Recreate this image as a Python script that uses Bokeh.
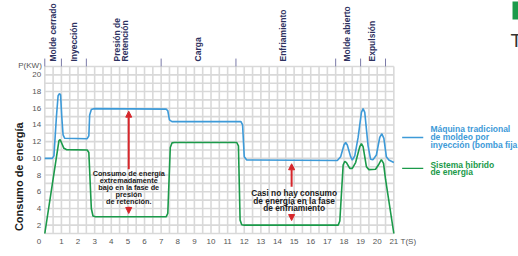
from bokeh.plotting import figure
from bokeh.models import Label, Arrow, NormalHead, Range1d
from bokeh.core.properties import value
from bokeh.embed import file_html
from bokeh.resources import INLINE

# ---------------- data ----------------
blue_x = [0, 0.45, 0.55, 0.7, 0.8, 0.88, 0.95, 1.02, 1.1, 1.2, 2.55, 2.65, 2.7, 2.8, 2.95,
          7.3, 7.4, 7.5, 7.65, 11.8, 11.9, 12.0, 12.15, 17.6, 17.8, 18.0, 18.1, 18.2, 18.4,
          18.5, 18.65, 18.85, 19.05, 19.15, 19.25, 19.45, 19.6, 19.75, 19.95, 20.15, 20.28,
          20.4, 20.55, 20.7, 21]
blue_y = [10, 10, 10.3, 15, 17.5, 17.75, 17.6, 15, 12.8, 12.4, 12.35, 12.7, 15.2, 15.85, 15.95,
          15.9, 15.7, 14.6, 14.4, 14.4, 14.0, 10.2, 9.8, 9.75, 10.2, 11.6, 11.9, 11.6, 10.2,
          9.8, 10.3, 12.5, 15.5, 15.95, 15.5, 11.5, 9.9, 9.85, 10.4, 12.5, 12.95,
          12.4, 10.2, 9.8, 9.5]

green_x = [0, 0.85, 0.92, 1.0, 1.15, 1.3, 2.55, 2.65, 2.8, 2.9, 3.05, 7.3, 7.4, 7.55, 7.65, 7.8,
           11.55, 11.65, 11.75, 11.85, 12.0, 17.65, 17.75, 17.95, 18.05, 18.15, 18.35, 18.5,
           18.7, 18.95, 19.05, 19.15, 19.35, 19.5, 19.9, 20.1, 20.25, 20.38, 20.5, 21]
green_y = [1, 12.1, 12.25, 11.9, 11.2, 11.05, 11.0, 10.7, 4, 3.1, 3.0, 3.0, 3.4, 11.3, 11.85, 11.9,
           11.9, 11.5, 2.6, 2.05, 2.0, 2.0, 2.5, 9.2, 9.65, 9.5, 8.8, 8.8,
           9.5, 11.4, 11.75, 11.4, 9.0, 8.65, 8.7, 9.3, 9.85, 9.4, 7.5, 1]

x_ticks = list(range(1, 22))
y_ticks = [0, 2, 4, 6, 8, 10, 12, 14, 16, 18, 20]

phase_bounds = [0, 1, 2.5, 7, 11.5, 17.5, 19, 20.5]
phase_names = ["Molde cerrado", "Inyección", "Presión de", "Retención", "Carga",
               "Enfriamiento", "Molde abierto", "Expulsión"]
phase_pos = [0.5, 1.73, 4.36, 4.8, 9.2, 14.35, 18.2, 19.7]

note1 = ["Consumo de energía", "extremadamente", "bajo en la fase de", "presión", "de retención."]
note2 = ["Casi no hay consumo", "de energía en la fase", "de enfriamiento"]
legend_blue = ["Máquina tradicional", "de moldeo por", "inyección (bomba fija"]
legend_green = ["Sistema hibrido", "de energía"]

BLUE = "#3d9ad8"
GREEN = "#1b9a4a"
RED = "#d6262b"
NAVY = "#2e3160"
GRID = "#d9d9d9"
TICK = "#555555"
FONT = "Liberation Sans"

# chart area: x 0..21, y 1..21 ; the frame spans the whole canvas
p = figure(width=518, height=256, output_backend="svg", toolbar_location=None,
           x_range=Range1d(-2.665, 28.50), y_range=Range1d(-1.754, 28.904),
           x_axis_location=None, y_axis_location=None, min_border=0)
p.grid.visible = False
p.outline_line_color = None
p.background_fill_color = "white"
p.border_fill_color = "white"

# grid (cells 0.5 s x 1 kW)
gx = [i * 0.5 for i in range(43)]
gy = list(range(1, 22))
p.segment(x0=gx, y0=[1] * len(gx), x1=gx, y1=[21] * len(gx), line_color=GRID, line_width=1.6)
p.segment(x0=[0] * len(gy), y0=gy, x1=[21] * len(gy), y1=gy, line_color=GRID, line_width=1.6)

# tick labels
p.text(x=x_ticks, y=[0] * len(x_ticks), text=[str(t) for t in x_ticks],
       text_font=value(FONT), text_font_size="8px", text_color=TICK,
       text_align="center", text_baseline="middle")
p.text(x=[-0.22] * len(y_ticks), y=y_ticks, text=[str(t) for t in y_ticks],
       text_font=value(FONT), text_font_size="8px", text_color=TICK,
       text_align="right", text_baseline="middle")

# series
p.line(blue_x, blue_y, line_color=BLUE, line_width=1.6)
p.line(green_x, green_y, line_color=GREEN, line_width=1.6)


def lab(x, y, text, size, color, bold=True, align="left", baseline="middle", angle=0):
    p.add_layout(Label(x=x, y=y, text=text, text_font=FONT, text_font_size=size,
                       text_color=color, text_font_style="bold" if bold else "normal",
                       text_align=align, text_baseline=baseline, angle=angle))


lab(-0.18, 21.12, "P(KW)", "8px", TICK, bold=False, align="right")
lab(21.4, 0, "T(S)", "8px", TICK, bold=False, align="left")
lab(-1.58, 7.8, "Consumo de energía", "11px", "#1a1a1a", align="center", angle=1.5708)

# phases
p.segment(x0=phase_bounds, y0=[21] * len(phase_bounds), x1=phase_bounds,
          y1=[21.95] * len(phase_bounds), line_color="#7a7aa8", line_width=1)
for name, xp in zip(phase_names, phase_pos):
    lab(xp, 21.6, name, "8.5px", NAVY, align="left", angle=1.5708)

# red arrows
head = dict(size=6, fill_color=RED, line_color=RED)
p.add_layout(Arrow(x_start=5.05, y_start=8.7, x_end=5.05, y_end=15.65,
                   end=NormalHead(**head), line_color=RED, line_width=2))
p.add_layout(Arrow(x_start=5.05, y_start=4.2, x_end=5.05, y_end=3.4,
                   end=NormalHead(**head), line_color=RED, line_width=2))
p.add_layout(Arrow(x_start=14.85, y_start=6.6, x_end=14.85, y_end=9.35,
                   end=NormalHead(**head), line_color=RED, line_width=2))
p.add_layout(Arrow(x_start=14.85, y_start=3.3, x_end=14.85, y_end=2.55,
                   end=NormalHead(**head), line_color=RED, line_width=2))

# notes
for i, t in enumerate(note1):
    lab(5.05, 8.15 - i * 0.84, t, "7.3px", "#1a1a1a", align="center")
for i, t in enumerate(note2):
    lab(15.0, 5.83 - i * 0.88, t, "8.3px", "#1a1a1a", align="center")

# legend
p.line([21.5, 22.77], [12.5, 12.5], line_color=BLUE, line_width=1.3)
p.line([21.5, 22.77], [8.8, 8.8], line_color=GREEN, line_width=1.3)
for i, t in enumerate(legend_blue):
    lab(23.2, 13.57 - i * 1.0, t, "8.5px", BLUE)
for i, t in enumerate(legend_green):
    lab(23.2, 9.26 - i * 0.9, t, "8.5px", GREEN)

# fragments at the right page edge
p.quad(left=[28.14], right=[29.0], bottom=[26.63], top=[28.78], fill_color=GREEN, line_color=None)
lab(28.02, 24.1, "T", "19px", "#333333", bold=False)

open("out.html", "w").write(file_html(p, INLINE))
